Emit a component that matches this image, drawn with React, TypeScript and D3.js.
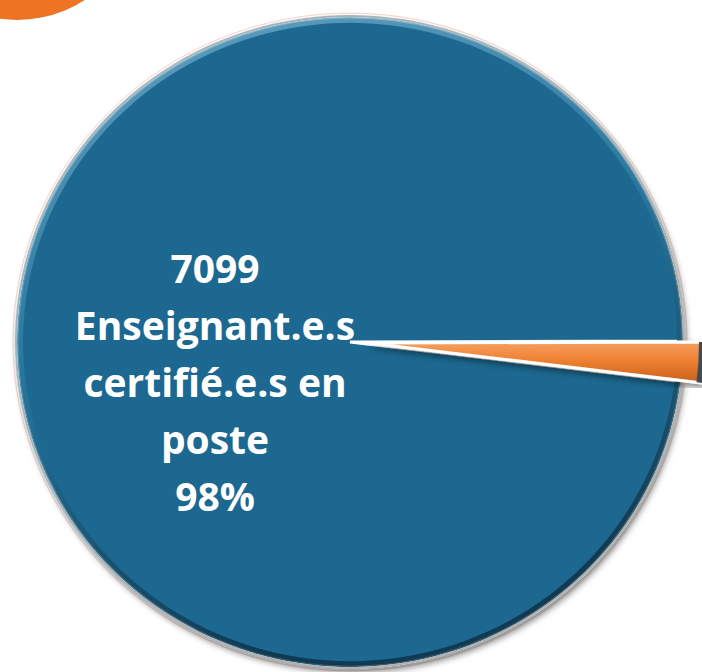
import React from "react";
import * as d3 from "d3";

const categories = ["Enseignant.e.s certifié.e.s en poste", "Autres"];
const values = [7099, 145];
const labelLines = ["7099", "Enseignant.e.s", "certifié.e.s en", "poste", "98%"];
const colors = ["#1E6890", "#EE7D2E"];

const W = 702;
const H = 672;

export default function App() {
  const cx = 350;
  const cy = 342;
  const r = 333;
  const yScale = 325 / 333;
  const startDeg = 89.8;
  const data = [values[1], values[0]];
  const pieGen = d3
    .pie<number>()
    .sort(null)
    .value((d) => d)
    .startAngle((startDeg * Math.PI) / 180)
    .endAngle(((startDeg + 360) * Math.PI) / 180);
  const arcsData = pieGen(data);
  const arc = d3.arc<d3.PieArcDatum<number>>().innerRadius(0).outerRadius(r);
  const orange = arcsData[0];
  const blue = arcsData[1];
  const mid = (orange.startAngle + orange.endAngle) / 2;
  const explode = 20;
  const ox = Math.sin(mid) * explode;
  const oy = -Math.cos(mid) * explode;

  const lineY = d3.scaleLinear().domain([0, labelLines.length - 1]).range([283, 511]);

  return (
    <svg width={W} height={H} style={{ position: "absolute", left: 0, top: 0 }}>
      <defs>
        <linearGradient id="blueEdge" x1="0" y1="0" x2="0.3" y2="1">
          <stop offset="0" stopColor="#7AB2CE" />
          <stop offset="0.5" stopColor="#2C7aa0" />
          <stop offset="1" stopColor="#0B2F44" />
        </linearGradient>
        <linearGradient id="orangeFill" x1="0" y1="0" x2="0" y2="1">
          <stop offset="0" stopColor="#F6A060" />
          <stop offset="0.45" stopColor="#EE8031" />
          <stop offset="1" stopColor="#C8601C" />
        </linearGradient>
        <filter id="shadow" x="-10%" y="-10%" width="120%" height="120%">
          <feDropShadow dx="2" dy="4" stdDeviation="3" floodColor="#000" floodOpacity="0.45" />
        </filter>
      </defs>
      <rect width={W} height={H} fill="#fff" />
      <circle cx={17} cy={-105} r={125} fill="#EE7424" />
      <g transform={`translate(${cx},${cy}) scale(1,${yScale})`}>
        <circle r={r + 4} fill="none" stroke="#F3D6CC" strokeWidth={1} />
        <g filter="url(#shadow)">
          <path d={arc(blue) || ""} fill={colors[0]} stroke="#fff" strokeWidth={3} />
        </g>
        <path
          d={d3.arc<d3.PieArcDatum<number>>().innerRadius(r - 6).outerRadius(r)(blue) || ""}
          fill="url(#blueEdge)"
          opacity={0.8}
        />
        <path
          d={d3.arc<d3.PieArcDatum<number>>().innerRadius(r).outerRadius(r + 2)(blue) || ""}
          fill="#A9B3B8"
        />
        <g transform={`translate(${ox},${oy})`} filter="url(#shadow)">
          <path d={arc(orange) || ""} fill="url(#orangeFill)" stroke="#fff" strokeWidth={3} />
          <path
            d={d3.arc<d3.PieArcDatum<number>>().innerRadius(r - 4).outerRadius(r + 2)(orange) || ""}
            fill="#4A4A4A"
          />
        </g>
      </g>
      <text
        textAnchor="middle"
        fill="#fff"
        fontFamily="'Open Sans', sans-serif"
        fontWeight={700}
        fontSize={39}
      >
        {labelLines.map((t, i) => (
          <tspan key={i} x={215} y={lineY(i)}>
            {t}
          </tspan>
        ))}
      </text>
      <title>{categories.join(" / ")}</title>
    </svg>
  );
}
